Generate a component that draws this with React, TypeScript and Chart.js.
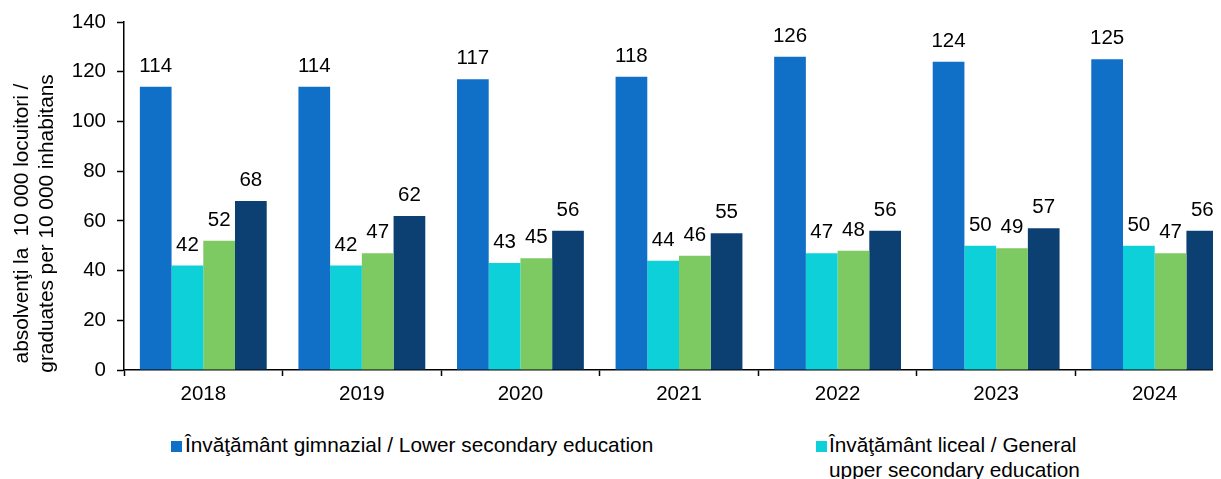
import React, { useEffect, useRef } from 'react';
import { Chart, registerables } from 'chart.js';

Chart.register(...registerables);

const FONT = '"Liberation Sans", Arial, Helvetica, sans-serif';

const years = ['2018', '2019', '2020', '2021', '2022', '2023', '2024'];
const lowerSecondary = [114, 114, 117, 118, 126, 124, 125];
const upperSecondary = [42, 42, 43, 44, 47, 50, 50];
const vocational = [52, 47, 45, 46, 48, 49, 47];
const postSecondary = [68, 62, 56, 55, 56, 57, 56];

const seriesNames = [
  'Învăţământ gimnazial / Lower secondary education',
  'Învăţământ liceal / General upper secondary education',
  'Învăţământ profesional / Vocational education',
  'Învăţământ postliceal şi de maiştri / Post-secondary and foreman education',
];
const seriesColors = ['#1070C8', '#0DD0D8', '#7DC962', '#0C4073'];
const yTitle = ['absolvenţi la  10 000 locuitori /', 'graduates per 10 000 inhabitans'];

const valueLabels = {
  id: 'valueLabels',
  afterDatasetsDraw(chart: any) {
    const ctx = chart.ctx;
    ctx.save();
    ctx.font = `20.5px ${FONT}`;
    ctx.fillStyle = '#000';
    ctx.textAlign = 'center';
    ctx.textBaseline = 'alphabetic';
    chart.data.datasets.forEach((ds: any, i: number) => {
      const meta = chart.getDatasetMeta(i);
      meta.data.forEach((bar: any, j: number) => {
        ctx.fillText(String(ds.data[j]), bar.x, bar.y - 15);
      });
    });
    ctx.restore();
  },
};

const axisTitle = {
  id: 'axisTitle',
  afterDraw(chart: any) {
    const ctx = chart.ctx;
    ctx.save();
    ctx.font = `20.8px ${FONT}`;
    ctx.fillStyle = '#000';
    ctx.textAlign = 'center';
    ctx.textBaseline = 'middle';
    const cy = 215.5;
    yTitle.forEach((line, i) => {
      ctx.save();
      ctx.translate(14 + i * 25, cy);
      ctx.rotate(-Math.PI / 2);
      ctx.fillText(line, 0, 0);
      ctx.restore();
    });
    ctx.restore();
  },
};

export default function App() {
  const ref = useRef<HTMLCanvasElement | null>(null);

  useEffect(() => {
    if (!ref.current) return;
    const data = [lowerSecondary, upperSecondary, vocational, postSecondary];
    const chart = new Chart(ref.current, {
      type: 'bar',
      data: {
        labels: years,
        datasets: data.map((d, i) => ({
          label: seriesNames[i],
          data: d,
          backgroundColor: seriesColors[i],
          borderWidth: 0,
          barPercentage: 1,
          categoryPercentage: 0.8,
        })),
      },
      options: {
        animation: false,
        responsive: false,
        devicePixelRatio: 1,
        layout: { padding: { top: 14, right: 14, bottom: 0, left: 0 } },
        plugins: {
          legend: { display: false },
          tooltip: { enabled: false },
        },
        scales: {
          x: {
            ticks: { color: '#000', font: { size: 20.5, family: FONT }, padding: 6 },
            grid: {
              display: true,
              drawOnChartArea: false,
              drawTicks: true,
              tickLength: 6,
              tickColor: '#000',
              tickWidth: 1.5,
              offset: true,
            },
            border: { display: true, color: '#000', width: 1.5 },
            afterFit(scale: any) {
              scale.height = 48;
              scale.paddingLeft = 0;
              scale.paddingRight = 0;
            },
          },
          y: {
            min: 0,
            max: 140,
            ticks: { stepSize: 20, color: '#000', font: { size: 20.5, family: FONT }, padding: 11 },
            grid: {
              display: true,
              drawOnChartArea: false,
              drawTicks: true,
              tickLength: 7,
              tickColor: '#000',
              tickWidth: 1.5,
            },
            border: { display: true, color: '#000', width: 1.5 },
            title: { display: false },
            afterFit(scale: any) {
              scale.width = 116;
              scale.paddingTop = 0;
              scale.paddingBottom = 0;
            },
          },
        },
      },
      plugins: [valueLabels, axisTitle],
    });
    return () => chart.destroy();
  }, []);

  const textStyle: React.CSSProperties = {
    position: 'absolute',
    fontFamily: FONT,
    fontSize: 20.8,
    lineHeight: '25px',
    color: '#000',
    whiteSpace: 'nowrap',
  };
  const marker = (c: string, left: number, top: number) => (
    <div style={{ position: 'absolute', left, top, width: 11, height: 11, background: c }} />
  );

  return (
    <div style={{ position: 'relative', width: 1213, height: 471, overflow: 'hidden' }}>
      <canvas ref={ref} width={1240} height={410} style={{ display: 'block', width: 1240, height: 410 }} />
      {marker(seriesColors[0], 163, 433)}
      <div style={{ ...textStyle, left: 177, top: 424 }}>{seriesNames[0]}</div>
      {marker(seriesColors[1], 808, 433)}
      <div style={{ ...textStyle, left: 821, top: 424 }}>
        Învăţământ liceal / General
        <br />
        upper secondary education
      </div>
      {marker(seriesColors[2], 163, 492)}
      <div style={{ ...textStyle, left: 177, top: 483 }}>{seriesNames[2]}</div>
      {marker(seriesColors[3], 808, 492)}
      <div style={{ ...textStyle, left: 821, top: 483 }}>{seriesNames[3]}</div>
    </div>
  );
}
